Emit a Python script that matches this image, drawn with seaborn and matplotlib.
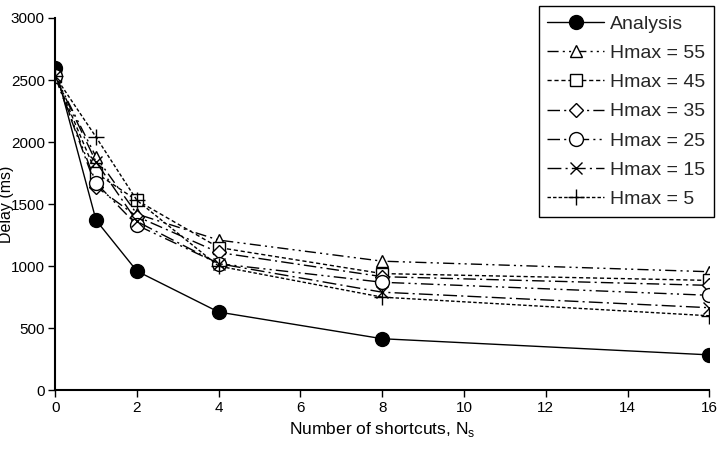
import matplotlib
matplotlib.use("Agg")
import matplotlib.pyplot as plt
import numpy as np
import pandas as pd
import seaborn as sns

# Number of shortcuts (x axis)
shortcuts = [0, 1, 2, 4, 8, 16]

# Delay in ms for each curve
analysis = [2600, 1370, 960, 630, 415, 285]
hmax_55 = [2530, 1880, 1420, 1210, 1040, 955]
hmax_45 = [2530, 1750, 1530, 1150, 940, 885]
hmax_35 = [2530, 1640, 1400, 1110, 915, 845]
hmax_25 = [2530, 1670, 1330, 1020, 870, 765]
hmax_15 = [2530, 1840, 1360, 1020, 790, 665]
hmax_5 = [2530, 2040, 1530, 1000, 750, 600]

labels = ["Analysis", "Hmax = 55", "Hmax = 45", "Hmax = 35",
          "Hmax = 25", "Hmax = 15", "Hmax = 5"]
series = [analysis, hmax_55, hmax_45, hmax_35, hmax_25, hmax_15, hmax_5]

df = pd.DataFrame({
    "Ns": np.tile(shortcuts, len(series)),
    "Delay": np.concatenate(series),
    "curve": np.repeat(labels, len(shortcuts)),
})

sns.set_theme(style="white")
plt.rcParams["font.family"] = ["Liberation Sans", "DejaVu Sans"]
plt.rcParams["mathtext.fontset"] = "custom"
plt.rcParams["mathtext.rm"] = "Liberation Sans"

styles = {
    "Analysis":  dict(ls="-", marker="o", ms=10, mfc="black"),
    "Hmax = 55": dict(ls=(0, (8, 3, 1.5, 3, 1.5, 3)), marker="^", ms=9, mfc="white"),
    "Hmax = 45": dict(ls=(0, (3, 2)), marker="s", ms=9, mfc="white"),
    "Hmax = 35": dict(ls=(0, (9, 3, 1.5, 3)), marker="D", ms=7, mfc="white"),
    "Hmax = 25": dict(ls=(0, (9, 3, 1.5, 3, 1.5, 3)), marker="o", ms=10, mfc="white"),
    "Hmax = 15": dict(ls=(0, (10, 3, 1.5, 3)), marker="x", ms=9, mfc="white"),
    "Hmax = 5":  dict(ls=(0, (2.5, 1.5)), marker="+", ms=11, mfc="white"),
}

fig = plt.figure(figsize=(7.26, 4.73), dpi=100)
ax = fig.add_axes([0.076, 0.175, 0.901, 0.787])

for name in labels:
    st = styles[name]
    sub = df[df["curve"] == name]
    sns.lineplot(data=sub, x="Ns", y="Delay", ax=ax, color="black",
                 linestyle=st["ls"], linewidth=1.0, marker=st["marker"],
                 markersize=st["ms"], markerfacecolor=st["mfc"],
                 markeredgecolor="black", markeredgewidth=1.0,
                 label=name, legend=False)

ax.set_xlim(0, 16)
ax.set_ylim(0, 3000)
ax.set_xticks(range(0, 17, 2))
ax.set_yticks(range(0, 3001, 500))
ax.tick_params(axis="both", direction="out", length=5, width=1, pad=2.5,
               labelsize=11, colors="black", bottom=True, left=True)
for side in ["top", "right"]:
    ax.spines[side].set_visible(False)
for side in ["left", "bottom"]:
    ax.spines[side].set_color("black")
    ax.spines[side].set_linewidth(1.5)

ax.set_xlabel(r"Number of shortcuts, N$_\mathregular{s}$", fontsize=12.5, color="black")
ax.set_ylabel("Delay (ms)", fontsize=11.5, color="black")
ax.yaxis.set_label_coords(-0.063, 0.5)

handles, hl = ax.get_legend_handles_labels()
leg = fig.legend(handles, hl, loc="upper right", bbox_to_anchor=(0.983, 0.987),
                 fontsize=14, frameon=True, fancybox=False, handlelength=2.9,
                 handletextpad=0.3, labelspacing=0.6, borderpad=0.45,
                 borderaxespad=0, edgecolor="black", framealpha=1)
leg.get_frame().set_linewidth(1.0)

fig.savefig("out.png", dpi=100)
